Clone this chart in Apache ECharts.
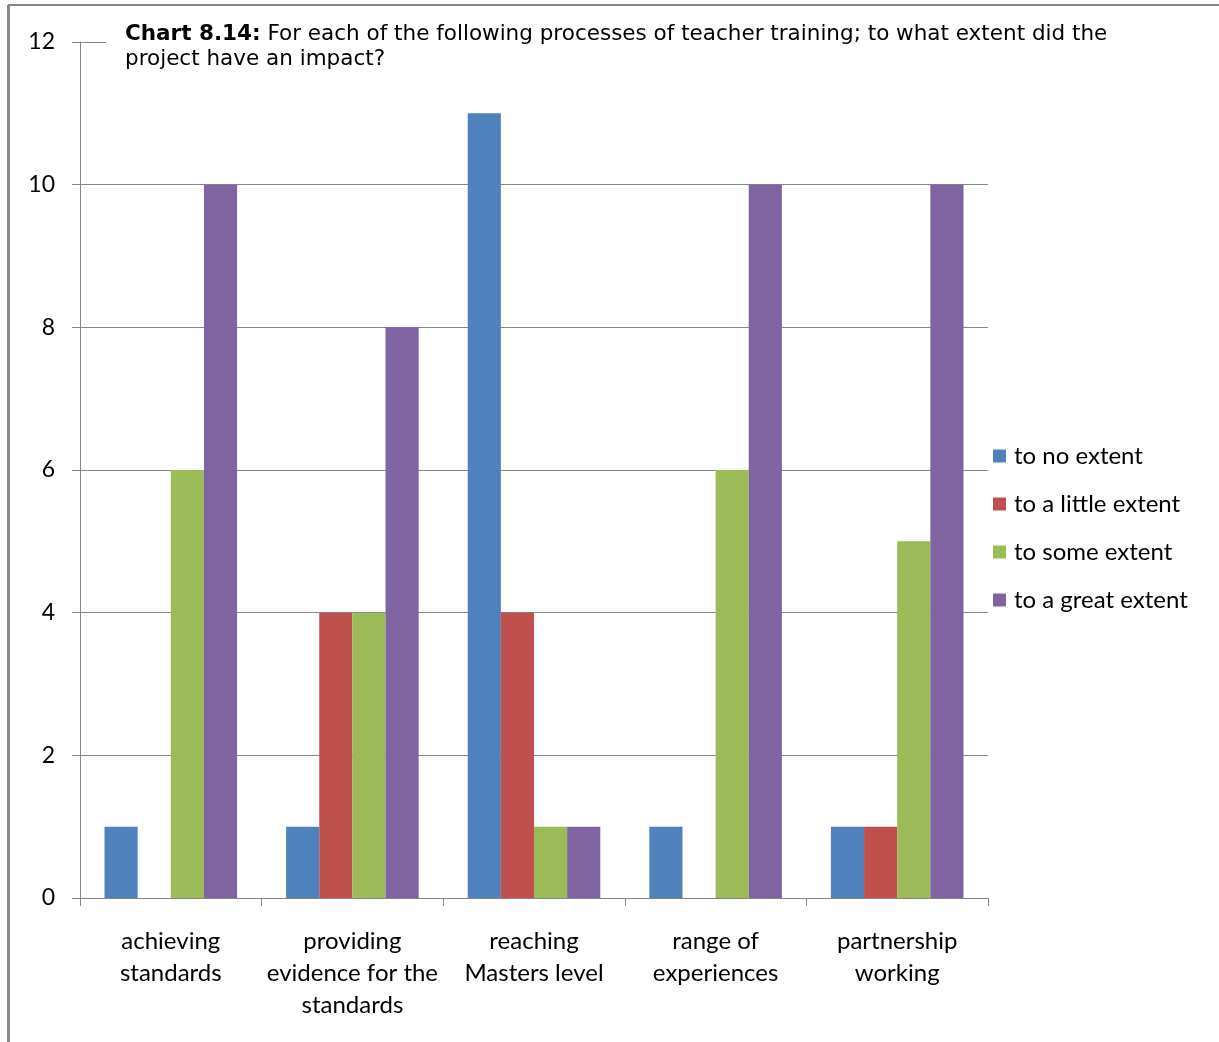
<!DOCTYPE html>
<html><head><meta charset="utf-8">
<script src="https://cdn.jsdelivr.net/npm/echarts@6/dist/echarts.min.js"></script>
<style>html,body{margin:0;padding:0;background:#fff}#c{width:1219px;height:1042px}</style>
</head><body><div id="c"></div>
<script>
const categories = ['achieving\nstandards', 'providing\nevidence for the\nstandards', 'reaching\nMasters level', 'range of\nexperiences', 'partnership\nworking'];
const seriesNames = ['to no extent', 'to a little extent', 'to some extent', 'to a great extent'];
const noExtent = [1, 1, 11, 1, 1];
const littleExtent = [0, 4, 4, 0, 1];
const someExtent = [6, 4, 1, 6, 5];
const greatExtent = [10, 8, 1, 10, 10];
const yTicks = [0, 2, 4, 6, 8, 10, 12];
const colors = ['#4F81BD', '#C0504D', '#9BBB59', '#8064A2'];

const labelFont = 'Lato';
const chart = echarts.init(document.getElementById('c'), null, {renderer: 'canvas'});
const values = [noExtent, littleExtent, someExtent, greatExtent];
chart.setOption({
  animation: false,
  backgroundColor: '#fff',
  color: colors,
  graphic: [
    {type: 'line', shape: {x1: 8, y1: 5, x2: 1219, y2: 5}, style: {stroke: '#888', lineWidth: 2}, z: 100},
    {type: 'line', shape: {x1: 8.5, y1: 5, x2: 8.5, y2: 1042}, style: {stroke: '#888', lineWidth: 3}, z: 100}
  ],
  title: {
    left: 106, top: 18,
    padding: [4, 19, 8, 19],
    backgroundColor: '#fff',
    z: 10,
    text: '{b|Chart 8.14:}{n| For each of the following processes of teacher training; to what extent did the}\n{n|project have an impact?}',
    textStyle: {
      fontFamily: 'DejaVu Sans', fontSize: 21.5, fontWeight: 'normal', color: '#000', lineHeight: 25,
      rich: {
        b: {fontFamily: 'DejaVu Sans', fontSize: 21.5, fontWeight: 'bold', color: '#000', lineHeight: 25},
        n: {fontFamily: 'DejaVu Sans', fontSize: 21.5, fontWeight: 'normal', color: '#000', lineHeight: 25}
      }
    }
  },
  legend: {
    orient: 'vertical', left: 993, top: 442, padding: 0,
    itemWidth: 13, itemHeight: 13, itemGap: 20,
    icon: 'rect',
    data: seriesNames,
    textStyle: {fontFamily: labelFont, fontSize: 24, color: '#000', lineHeight: 28, padding: [0, 0, 0, 3]}
  },
  grid: {left: 80, right: 231, top: 42, bottom: 144, containLabel: false},
  xAxis: {
    type: 'category', data: categories,
    axisLine: {lineStyle: {color: '#868686', width: 1}},
    axisTick: {show: true, length: 8, alignWithLabel: false, lineStyle: {color: '#868686'}},
    axisLabel: {fontFamily: labelFont, fontSize: 24, color: '#000', lineHeight: 32, margin: 27, interval: 0}
  },
  yAxis: {
    type: 'value', min: 0, max: 12, interval: 2,
    axisLine: {show: true, lineStyle: {color: '#868686', width: 1}},
    axisTick: {show: true, length: 8, lineStyle: {color: '#868686'}},
    axisLabel: {fontFamily: labelFont, fontSize: 23, color: '#000', margin: 25,
      formatter: v => yTicks.includes(v) ? String(v) : ''},
    splitLine: {show: true, lineStyle: {color: '#868686', width: 1}}
  },
  series: seriesNames.map((n, i) => ({
    name: n, type: 'bar', data: values[i],
    barGap: '0%', barCategoryGap: '27%',
    itemStyle: {color: colors[i]}
  }))
});
</script></body></html>
